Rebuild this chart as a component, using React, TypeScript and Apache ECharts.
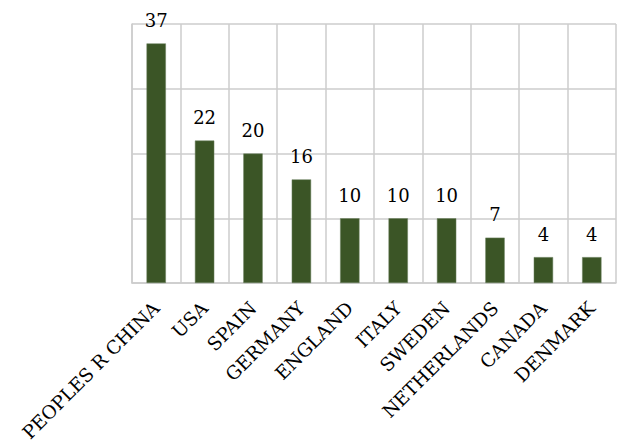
import React, { useEffect, useRef } from "react";
import * as echarts from "echarts";

const categories = ["PEOPLES R CHINA", "USA", "SPAIN", "GERMANY", "ENGLAND", "ITALY", "SWEDEN", "NETHERLANDS", "CANADA", "DENMARK"];
const values = [37, 22, 20, 16, 10, 10, 10, 7, 4, 4];

const FONT = "DejaVu Serif";

export default function App() {
  const ref = useRef<HTMLDivElement>(null);
  useEffect(() => {
    document.body.style.margin = "0";
    const chart = echarts.init(ref.current!, null, { renderer: "svg" });
    chart.setOption({
      animation: false,
      grid: { left: 132, right: 2, top: 24, bottom: 163 },
      xAxis: {
        type: "category",
        data: categories,
        boundaryGap: true,
        axisLine: { show: true, lineStyle: { color: "#cccccc", width: 1.5 } },
        axisTick: { show: false },
        splitLine: { show: true, lineStyle: { color: "#cccccc", width: 1.5 } },
        axisLabel: {
          interval: 0,
          rotate: 45,
          color: "#000",
          fontFamily: FONT,
          fontSize: 18.5,
          margin: 22,
        },
      },
      yAxis: {
        type: "value",
        min: 0,
        max: 40,
        interval: 10,
        axisLine: { show: true, lineStyle: { color: "#cccccc", width: 1.5 } },
        axisTick: { show: false },
        axisLabel: { show: false },
        splitLine: { show: true, lineStyle: { color: "#cccccc", width: 1.5 } },
      },
      series: [
        {
          type: "bar",
          data: values,
          barWidth: "40%",
          itemStyle: { color: "#3b5526", borderColor: "#6d8060", borderWidth: 0.5 },
          label: {
            show: true,
            position: "top",
            distance: 14,
            color: "#000",
            fontFamily: FONT,
            fontSize: 18,
          },
        },
      ],
    });
    return () => chart.dispose();
  }, []);
  return <div ref={ref} style={{ width: 618, height: 446 }} />;
}
